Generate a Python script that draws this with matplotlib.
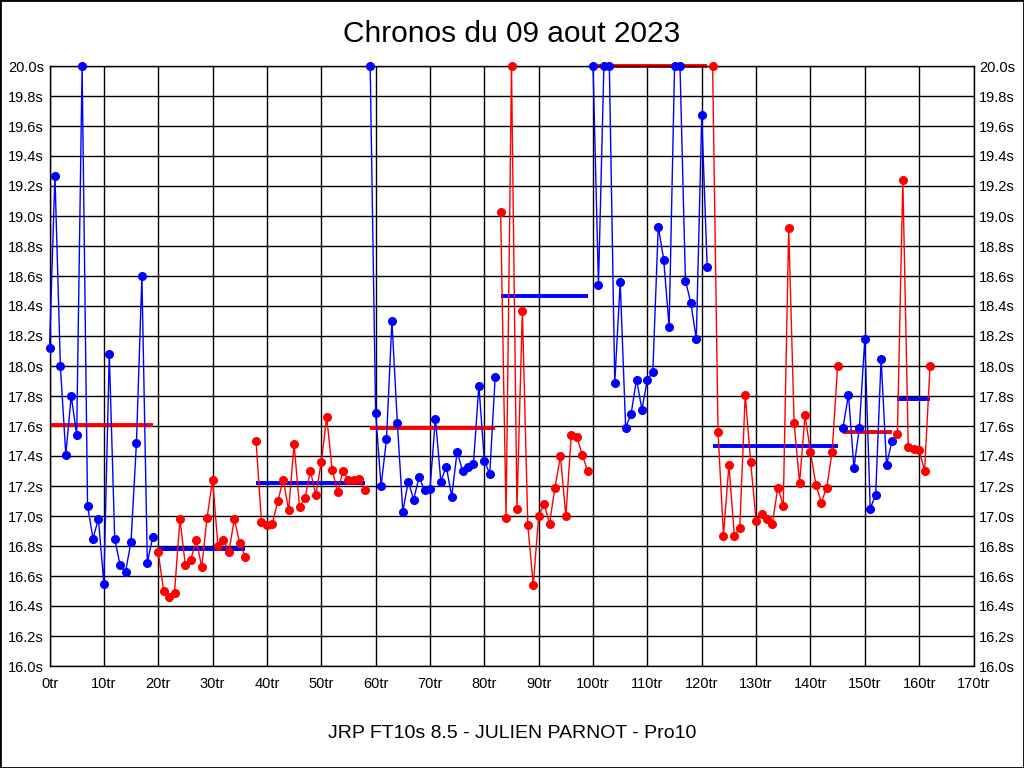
import matplotlib.pyplot as plt
from matplotlib.patches import Rectangle
from matplotlib.ticker import FuncFormatter, MultipleLocator

plt.rcParams['font.family'] = ['Liberation Sans', 'DejaVu Sans']

# premier tour de chaque relais
relais_debut = [0, 20, 38, 59, 83, 100, 122, 146, 156]
relais_couleur = ['blue', 'red', 'red', 'blue', 'red', 'blue', 'red', 'blue', 'red']
# temps au tour (s), plafonnés à 20.0
relais_temps = [
    [18.12, 19.27, 18.00, 17.41, 17.80, 17.54, 20.00, 17.07, 16.85, 16.98,
     16.55, 18.08, 16.85, 16.67, 16.63, 16.83, 17.49, 18.60, 16.69, 16.86],
    [16.76, 16.50, 16.46, 16.49, 16.98, 16.67, 16.71, 16.84, 16.66, 16.99,
     17.24, 16.80, 16.84, 16.76, 16.98, 16.82, 16.73],
    [17.50, 16.96, 16.94, 16.95, 17.10, 17.24, 17.04, 17.48, 17.06, 17.12,
     17.30, 17.14, 17.36, 17.66, 17.31, 17.16, 17.30, 17.24, 17.24, 17.25,
     17.17],
    [20.00, 17.69, 17.20, 17.51, 18.30, 17.62, 17.03, 17.23, 17.11, 17.26,
     17.17, 17.18, 17.65, 17.23, 17.33, 17.13, 17.43, 17.30, 17.33, 17.35,
     17.87, 17.37, 17.28, 17.93],
    [19.03, 16.99, 20.00, 17.05, 18.37, 16.94, 16.54, 17.00, 17.08, 16.95,
     17.19, 17.40, 17.00, 17.54, 17.53, 17.41, 17.30],
    [20.00, 18.54, 20.00, 20.00, 17.89, 18.56, 17.59, 17.68, 17.91, 17.71,
     17.91, 17.96, 18.93, 18.71, 18.26, 20.00, 20.00, 18.57, 18.42, 18.18,
     19.67, 18.66],
    [20.00, 17.56, 16.87, 17.34, 16.87, 16.92, 17.81, 17.36, 16.97, 17.01,
     16.98, 16.95, 17.19, 17.07, 18.92, 17.62, 17.22, 17.67, 17.43, 17.21,
     17.09, 17.19, 17.43, 18.00],
    [17.59, 17.81, 17.32, 17.59, 18.18, 17.05, 17.14, 18.05, 17.34, 17.50],
    [17.55, 19.24, 17.46, 17.45, 17.44, 17.30, 18.00],
]
# temps de référence de chaque relais
relais_ref = [17.61, 16.78, 17.22, 17.59, 18.47, 20.00, 17.47, 17.56, 17.78]

fig = plt.figure(figsize=(10.24, 7.68), dpi=100)
ax = fig.add_axes([49.5 / 1024, 1 - 666 / 768, 924 / 1024, 600 / 768])

for debut, coul, temps, ref in zip(relais_debut, relais_couleur, relais_temps, relais_ref):
    tours = list(range(debut, debut + len(temps)))
    ax.plot(tours, temps, color=coul, lw=1, marker='o', ms=5.5, zorder=3, clip_on=False)
    coul_ref = 'red' if coul == 'blue' else 'blue'
    ax.plot([tours[0], tours[-1]], [ref, ref], color=coul_ref, lw=2.8, zorder=2,
            solid_capstyle='butt', clip_on=False)

ax.set_xlim(0, 170)
ax.set_ylim(16.0, 20.0)
ax.xaxis.set_major_locator(MultipleLocator(10))
ax.yaxis.set_major_locator(MultipleLocator(0.2))
ax.xaxis.set_major_formatter(FuncFormatter(lambda v, p: f"{v:.0f}tr"))
ax.yaxis.set_major_formatter(FuncFormatter(lambda v, p: f"{v:.1f}s"))
ax.tick_params(axis='both', labelsize=10.5, length=0, pad=4)
ax.tick_params(axis='x', pad=8)
ax.tick_params(axis='y', right=True, labelright=True)
ax.grid(True, color='black', lw=1)
ax.set_axisbelow(True)
for s in ax.spines.values():
    s.set_color('black')
    s.set_linewidth(1)

fig.text(0.5, 1 - 34 / 768, "Chronos du 09 aout 2023", ha='center', va='center', fontsize=21.5)
fig.text(0.5, 1 - 733 / 768, "JRP FT10s 8.5 - JULIEN PARNOT - Pro10", ha='center',
         va='center', fontsize=14)
fig.patches.append(Rectangle((0, 0), 1, 1, transform=fig.transFigure, fill=False,
                             edgecolor='black', lw=2))

fig.savefig('out.png', dpi=100, facecolor='white')
